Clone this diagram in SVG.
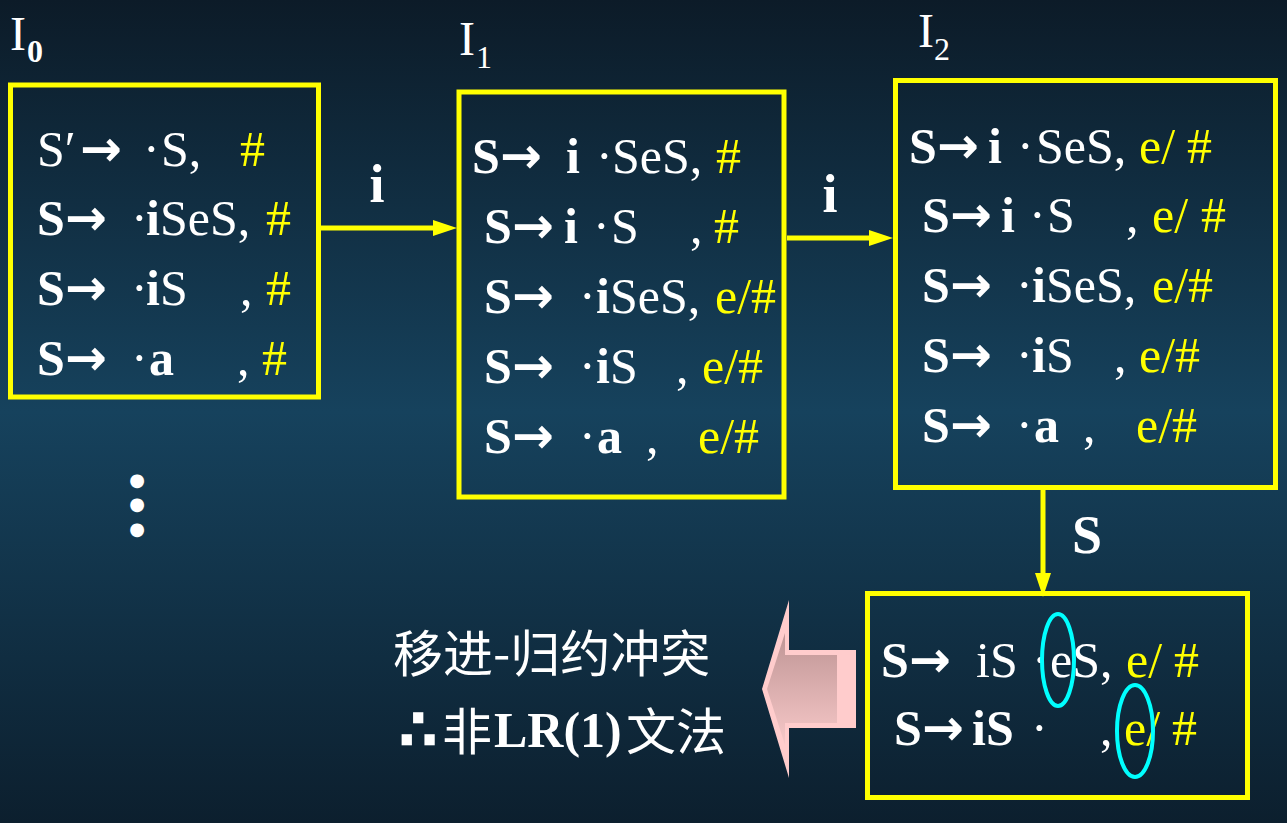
<svg xmlns="http://www.w3.org/2000/svg" width="1287" height="823" viewBox="0 0 1287 823">
<defs>
<linearGradient id="bg" x1="0" y1="0" x2="0" y2="1">
<stop offset="0" stop-color="#0c1b28"/>
<stop offset="0.5" stop-color="#16425d"/>
<stop offset="1" stop-color="#0c1f2e"/>
</linearGradient>
<linearGradient id="pk" x1="0" y1="0" x2="0" y2="1">
<stop offset="0" stop-color="#bf9595"/>
<stop offset="1" stop-color="#f7c8c8"/>
</linearGradient>
<marker id="ah" markerUnits="userSpaceOnUse" markerWidth="24" markerHeight="16" refX="13" refY="8" orient="auto">
<path d="M0,0 L24,8 L0,16 z" fill="#ffff00"/>
</marker>
<style>
.box{fill:none;stroke:#ffff00;stroke-width:5}
.t{font-family:"Liberation Serif","Times New Roman",serif;font-size:50px;fill:#ffffff}
.b{font-weight:bold}
.y{fill:#ffff00}
.ar{font-family:"DejaVu Sans",sans-serif;font-weight:bold;font-size:50px;fill:#ffffff}
.lbl{font-family:"Liberation Serif",serif;font-size:48px;fill:#ffffff}
.sub{font-size:32px}
.el{font-family:"Liberation Serif",serif;font-weight:bold;font-size:54px;fill:#ffffff;text-anchor:middle}
.cn{font-family:"Noto Sans CJK SC",sans-serif;font-size:50px;fill:#ffffff}
.conn{stroke:#ffff00;stroke-width:5;fill:none}
.ring{fill:none;stroke:#00ffff;stroke-width:4}
.dot{font-family:"DejaVu Sans",sans-serif;font-size:18px;fill:#ffffff;text-anchor:middle}
</style>
</defs>
<rect x="0" y="0" width="1287" height="823" fill="url(#bg)"/>

<g id="connectors">
<line class="conn" x1="321" y1="228" x2="446" y2="228" marker-end="url(#ah)"/>
<line class="conn" x1="787" y1="238" x2="882" y2="238" marker-end="url(#ah)"/>
<line class="conn" x1="1043" y1="490" x2="1043" y2="586" marker-end="url(#ah)"/>
<text class="el" x="377" y="202">i</text>
<text class="el" x="830" y="212">i</text>
<text class="el" x="1087" y="553">S</text>
</g>

<g id="I0">
<text class="lbl" x="10" y="50">I<tspan class="sub b" x="27" y="62">0</tspan></text>
<rect class="box" x="10.5" y="85" width="308" height="312"/>
<text class="t" y="166"><tspan x="37">S′</tspan><tspan class="ar" x="80">→</tspan><tspan x="143">·</tspan><tspan x="161">S,</tspan><tspan class="y" x="240">#</tspan></text>
<text class="t" y="235"><tspan class="b" x="37">S</tspan><tspan class="ar" x="65">→</tspan><tspan x="131">·</tspan><tspan class="b" x="146">i</tspan><tspan>SeS,</tspan><tspan class="y" x="266">#</tspan></text>
<text class="t" y="305"><tspan class="b" x="37">S</tspan><tspan class="ar" x="65">→</tspan><tspan x="131">·</tspan><tspan class="b" x="146">i</tspan><tspan>S</tspan><tspan x="240">,</tspan><tspan class="y" x="266">#</tspan></text>
<text class="t" y="375"><tspan class="b" x="37">S</tspan><tspan class="ar" x="65">→</tspan><tspan x="131">·</tspan><tspan class="b" x="149">a</tspan><tspan x="237">,</tspan><tspan class="y" x="262">#</tspan></text>
</g>

<g id="dots">
<text class="dot"><tspan x="137" y="486">●</tspan><tspan x="137" y="510">●</tspan><tspan x="137" y="535">●</tspan></text>
</g>

<g id="I1">
<text class="lbl" x="459" y="55">I<tspan class="sub" x="476" y="68">1</tspan></text>
<rect class="box" x="459" y="92" width="325" height="405"/>
<text class="t" y="173"><tspan class="b" x="472">S</tspan><tspan class="ar" x="500">→</tspan><tspan class="b" x="566">i</tspan><tspan x="596">·</tspan><tspan x="612">SeS,</tspan><tspan class="y" x="716">#</tspan></text>
<text class="t" y="243"><tspan class="b" x="484">S</tspan><tspan class="ar" x="512">→</tspan><tspan class="b" x="564">i</tspan><tspan x="593">·</tspan><tspan x="611">S</tspan><tspan x="690">,</tspan><tspan class="y" x="714">#</tspan></text>
<text class="t" y="313"><tspan class="b" x="484">S</tspan><tspan class="ar" x="512">→</tspan><tspan x="579">·</tspan><tspan class="b" x="596">i</tspan><tspan>SeS,</tspan><tspan class="y" x="715">e/#</tspan></text>
<text class="t" y="383"><tspan class="b" x="484">S</tspan><tspan class="ar" x="512">→</tspan><tspan x="579">·</tspan><tspan class="b" x="596">i</tspan><tspan>S</tspan><tspan x="676">,</tspan><tspan class="y" x="702">e/#</tspan></text>
<text class="t" y="453"><tspan class="b" x="484">S</tspan><tspan class="ar" x="512">→</tspan><tspan x="579">·</tspan><tspan class="b" x="597">a</tspan><tspan x="646">,</tspan><tspan class="y" x="698">e/#</tspan></text>
</g>

<g id="I2">
<text class="lbl" x="918" y="47">I<tspan class="sub" x="934" y="60">2</tspan></text>
<rect class="box" x="895.5" y="80.5" width="380" height="407"/>
<text class="t" y="163"><tspan class="b" x="909">S</tspan><tspan class="ar" x="937">→</tspan><tspan class="b" x="988">i</tspan><tspan x="1017">·</tspan><tspan x="1036">SeS,</tspan><tspan class="y" x="1139">e/</tspan><tspan class="y" x="1187">#</tspan></text>
<text class="t" y="232"><tspan class="b" x="922">S</tspan><tspan class="ar" x="950">→</tspan><tspan class="b" x="1001">i</tspan><tspan x="1029">·</tspan><tspan x="1047">S</tspan><tspan x="1126">,</tspan><tspan class="y" x="1152">e/</tspan><tspan class="y" x="1201">#</tspan></text>
<text class="t" y="302"><tspan class="b" x="922">S</tspan><tspan class="ar" x="950">→</tspan><tspan x="1016">·</tspan><tspan class="b" x="1032">i</tspan><tspan>SeS,</tspan><tspan class="y" x="1152">e/#</tspan></text>
<text class="t" y="372"><tspan class="b" x="922">S</tspan><tspan class="ar" x="950">→</tspan><tspan x="1016">·</tspan><tspan class="b" x="1032">i</tspan><tspan>S</tspan><tspan x="1114">,</tspan><tspan class="y" x="1139">e/#</tspan></text>
<text class="t" y="442"><tspan class="b" x="922">S</tspan><tspan class="ar" x="950">→</tspan><tspan x="1016">·</tspan><tspan class="b" x="1034">a</tspan><tspan x="1083">,</tspan><tspan class="y" x="1136">e/#</tspan></text>
</g>

<g id="I3">
<rect class="box" x="867.5" y="593.5" width="380" height="204"/>
<text class="t" y="677"><tspan class="b" x="881">S</tspan><tspan class="ar" x="909">→</tspan><tspan x="976">iS</tspan><tspan x="1032">·</tspan><tspan x="1050">eS,</tspan><tspan class="y" x="1126">e/</tspan><tspan class="y" x="1174">#</tspan></text>
<text class="t" y="745"><tspan class="b" x="894">S</tspan><tspan class="ar" x="922">→</tspan><tspan class="b" x="972">iS</tspan><tspan x="1031">·</tspan><tspan x="1100">,</tspan><tspan class="y" x="1124">e/</tspan><tspan class="y" x="1172">#</tspan></text>
<ellipse class="ring" cx="1058" cy="660" rx="16" ry="46"/>
<ellipse class="ring" cx="1135" cy="731" rx="18" ry="46"/>
</g>

<g id="bigArrow">
<polygon points="762,689 789,600 789,650 856,650 856,728 789,728 789,778" fill="#ffcccc"/>
<polygon points="767,689 785,633 785,655 837,655 837,723 785,723 785,745" fill="url(#pk)"/>
</g>

<g id="conclusion">
<text class="cn" x="393" y="672">移进-归约冲突</text>
<text class="cn" y="750"><tspan x="398" style="font-family:'DejaVu Sans',sans-serif;font-weight:bold;font-size:58px">∴</tspan><tspan x="442">非</tspan><tspan x="494" y="747" style="font-family:'Liberation Serif',serif;font-weight:bold">LR(1)</tspan><tspan x="626" y="750">文法</tspan></text>
</g>
</svg>
